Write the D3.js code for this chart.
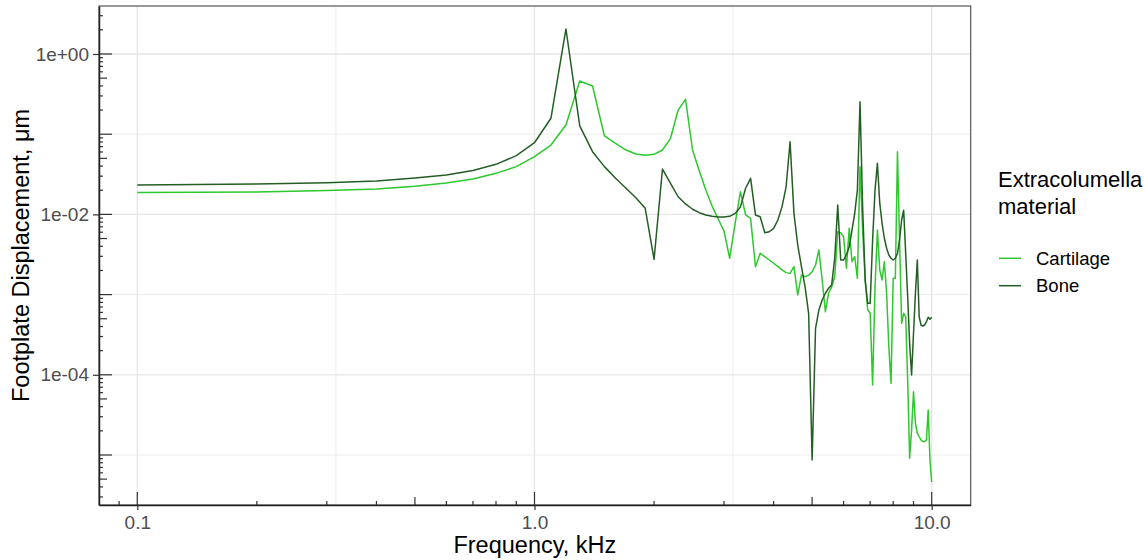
<!DOCTYPE html>
<html><head><meta charset="utf-8">
<script src="https://cdn.jsdelivr.net/npm/d3@7"></script>
<style>body{margin:0;background:#fff;} svg{display:block;font-family:"Liberation Sans",Arial,sans-serif;}</style>
</head><body>
<svg id="chart" width="1145" height="560"></svg>
<script>
const freqs = [0.1,0.2,0.3,0.4,0.5,0.6,0.7,0.8,0.9,1.0,1.1,1.2,1.3,1.4,1.5,1.6,1.7,1.8,1.9,2.0,
2.1,2.2,2.3,2.4,2.5,2.6,2.7,2.8,2.9,3.0,3.1,3.2,3.3,3.4,3.5,3.6,3.7,3.8,3.9,4.0,
4.1,4.2,4.3,4.4,4.5,4.6,4.7,4.8,4.9,5.0,5.1,5.2,5.3,5.4,5.5,5.6,5.7,5.8,5.9,6.0,
6.1,6.2,6.3,6.4,6.5,6.6,6.7,6.8,6.9,7.0,7.1,7.2,7.3,7.4,7.5,7.6,7.7,7.8,7.9,8.0,
8.1,8.2,8.3,8.4,8.5,8.6,8.7,8.8,8.9,9.0,9.1,9.2,9.3,9.4,9.5,9.6,9.7,9.8,9.9,10.0];

const cartilage = [0.0187,0.0190,0.0199,0.0207,0.0224,0.0246,0.0276,0.0325,0.0394,0.0524,
0.0733,0.130,0.461,0.399,0.0950,0.0770,0.0635,0.0566,0.0546,0.0561,
0.0635,0.0889,0.200,0.272,0.0635,0.0348,0.0201,0.0127,0.00877,0.00621,
0.00284,0.00774,0.0192,0.00984,0.00894,0.00223,0.00327,0.00297,0.00270,0.00246,
0.00223,0.00203,0.00188,0.00184,0.00223,0.000989,0.00175,0.00167,0.00175,0.00193,
0.00234,0.00360,0.00152,0.000612,0.00104,0.00125,0.00167,0.00608,0.00591,0.00527,
0.00213,0.00671,0.00257,0.00297,0.00160,0.0394,0.00638,0.00152,0.000643,0.000590,
0.0000746,0.00125,0.00638,0.00203,0.00152,0.00257,0.00104,0.000224,0.0000783,0.00160,
0.00160,0.0605,0.00480,0.000439,0.000585,0.000530,0.0000861,0.0000091,0.0000205,0.0000615,
0.0000248,0.0000187,0.0000169,0.0000154,0.0000147,0.0000147,0.0000154,0.0000364,0.00000867,0.0000046];

const bone = [0.0233,0.0239,0.0248,0.0261,0.0284,0.0310,0.0353,0.0421,0.0540,0.0783,
0.158,2.05,0.127,0.0605,0.0394,0.0282,0.0212,0.0161,0.0119,0.00275,
0.0368,0.0244,0.0166,0.0135,0.0116,0.0105,0.00984,0.00946,0.00929,0.00929,
0.00946,0.0103,0.0124,0.0212,0.0282,0.00984,0.00936,0.00591,0.00608,0.00671,
0.00851,0.0125,0.0221,0.0806,0.0103,0.00415,0.00223,0.00125,0.000585,0.00000867,
0.000380,0.000643,0.000857,0.00104,0.00120,0.00132,0.00284,0.0131,0.00270,0.00270,
0.00312,0.00395,0.00638,0.0103,0.0201,0.254,0.0125,0.00152,0.000779,0.000779,
0.00480,0.0201,0.0434,0.0138,0.00774,0.00504,0.00378,0.00312,0.00284,0.00270,
0.00284,0.00327,0.00480,0.00851,0.0113,0.00327,0.000942,0.000247,0.0000995,0.000329,
0.00104,0.00270,0.000530,0.000418,0.000406,0.000418,0.000459,0.000521,0.000492,0.000521];

const seriesNames = ["Cartilage","Bone"];
const seriesColors = ["#2DC82D","#245E24"];
const xTickValues = [0.1,1,10];
const xTickLabels = ["0.1","1.0","10.0"];
const yTickValues = [1,1e-2,1e-4];
const yTickLabels = ["1e+00","1e-02","1e-04"];
const xTitle = "Frequency, kHz";
const yTitle = "Footplate Displacement, μm";
const legendTitle = ["Extracolumella","material"];

const svg = d3.select("#chart");
const L = 99, R = 970.7, T = 6, B = 505;
const x = d3.scaleLog().domain([Math.pow(10,-1.0964), Math.pow(10,1.0982)]).range([L,R]);
const y = d3.scaleLog().domain([Math.pow(10,-5.6234), Math.pow(10,0.5985)]).range([B,T]);

// grid
const g = svg.append("g");
const xMinor = [Math.sqrt(0.1), Math.sqrt(10)];
const yMinor = [1e-1,1e-3,1e-5];
g.selectAll(".xmin").data(xMinor).enter().append("line")
 .attr("x1",d=>x(d)).attr("x2",d=>x(d)).attr("y1",T).attr("y2",B)
 .attr("stroke","#EDEDED").attr("stroke-width",1);
g.selectAll(".ymin").data(yMinor).enter().append("line")
 .attr("y1",d=>y(d)).attr("y2",d=>y(d)).attr("x1",L).attr("x2",R)
 .attr("stroke","#EDEDED").attr("stroke-width",1);
g.selectAll(".xmaj").data(xTickValues).enter().append("line")
 .attr("x1",d=>x(d)).attr("x2",d=>x(d)).attr("y1",T).attr("y2",B)
 .attr("stroke","#E6E6E6").attr("stroke-width",1.3);
g.selectAll(".ymaj").data(yTickValues).enter().append("line")
 .attr("y1",d=>y(d)).attr("y2",d=>y(d)).attr("x1",L).attr("x2",R)
 .attr("stroke","#E6E6E6").attr("stroke-width",1.3);

// lines
const clip = svg.append("clipPath").attr("id","clp").append("rect")
 .attr("x",L).attr("y",T).attr("width",R-L).attr("height",B-T);
const line = d3.line().x((d,i)=>x(freqs[i])).y(d=>y(d));
[cartilage,bone].forEach((s,k)=>{
  svg.append("path").datum(s).attr("d",line).attr("fill","none")
   .attr("stroke",seriesColors[k]).attr("stroke-width",1.5)
   .attr("stroke-linejoin","round").attr("clip-path","url(#clp)");
});

// panel border
svg.append("rect").attr("x",L).attr("y",T).attr("width",R-L).attr("height",B-T)
 .attr("fill","none").attr("stroke","#555").attr("stroke-width",1.2);

// log ticks (inside)
const lt = svg.append("g").attr("stroke","#333").attr("stroke-width",1.2);
const xd = x.domain(), yd = y.domain();
for (let k=-7;k<=2;k++){ for (let m=1;m<=9;m++){
  const v = m*Math.pow(10,k);
  const len = m===1?13:(m===5?8:4);
  if (v>=xd[0] && v<=xd[1]) lt.append("line").attr("x1",x(v)).attr("x2",x(v)).attr("y1",B).attr("y2",B-len);
  if (v>=yd[0] && v<=yd[1]) lt.append("line").attr("y1",y(v)).attr("y2",y(v)).attr("x1",L).attr("x2",L+len);
}}

// axes
const xAxis = d3.axisBottom(x).tickValues(xTickValues).tickFormat((d,i)=>xTickLabels[i]).tickSizeOuter(0).tickSizeInner(5).tickPadding(6);
const yAxis = d3.axisLeft(y).tickValues(yTickValues).tickFormat((d,i)=>yTickLabels[i]).tickSizeOuter(0).tickSizeInner(6).tickPadding(4);
const gx = svg.append("g").attr("transform",`translate(0,${B})`).call(xAxis);
const gy = svg.append("g").attr("transform",`translate(${L},0)`).call(yAxis);
[gx,gy].forEach(a=>{
  a.select(".domain").attr("stroke","#222").attr("stroke-width",1.5);
  a.selectAll(".tick line").attr("stroke","#333").attr("stroke-width",1.2);
  a.selectAll("text").attr("fill","#4D4D4D").attr("font-size",19).attr("font-family","Liberation Sans, Arial, sans-serif");
});

// titles
svg.append("text").attr("x",(L+R)/2).attr("y",553).attr("text-anchor","middle")
 .attr("font-size",23.5).attr("fill","#000").text(xTitle);
svg.append("text").attr("transform",`translate(29,${(T+B)/2}) rotate(-90)`).attr("text-anchor","middle")
 .attr("font-size",23.5).attr("fill","#000").text(yTitle);

// legend
const lg = svg.append("g");
legendTitle.forEach((t,i)=>lg.append("text").attr("x",998).attr("y",187+i*26.5)
 .attr("font-size",22).attr("fill","#000").text(t));
seriesNames.forEach((n,i)=>{
  const yy = 258.3 + i*27.4;
  lg.append("line").attr("x1",999).attr("x2",1021).attr("y1",yy).attr("y2",yy)
   .attr("stroke",seriesColors[i]).attr("stroke-width",1.5);
  lg.append("text").attr("x",1036).attr("y",yy).attr("dy","0.35em")
   .attr("font-size",18.5).attr("fill","#000").text(n);
});
</script>
</body></html>
